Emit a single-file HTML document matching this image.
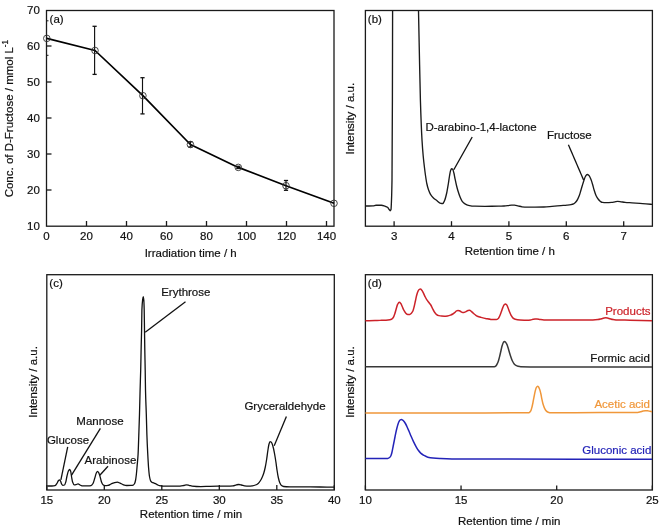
<!DOCTYPE html>
<html><head><meta charset="utf-8"><title>Figure</title>
<style>
html,body{margin:0;padding:0;background:#fff;}
body{width:669px;height:532px;overflow:hidden;}
svg{display:block;will-change:transform;}
svg text{font-family:"Liberation Sans", sans-serif;font-size:11.5px;}
</style></head>
<body>
<svg width="669" height="532" viewBox="0 0 669 532" fill="#111">
<rect width="669" height="532" fill="#fff"/>
<rect x="46.5" y="10.5" width="287.50" height="215.70" fill="none" stroke="#1a1a1a" stroke-width="1.3"/>
<rect x="365.4" y="10.5" width="287.00" height="215.70" fill="none" stroke="#1a1a1a" stroke-width="1.3"/>
<rect x="46.8" y="274.7" width="287.50" height="215.30" fill="none" stroke="#1a1a1a" stroke-width="1.3"/>
<rect x="365.4" y="274.7" width="287.00" height="215.30" fill="none" stroke="#1a1a1a" stroke-width="1.3"/>
<text stroke="#111" stroke-width="0.2" x="46.50" y="240" text-anchor="middle">0</text>
<line x1="86.50" y1="226" x2="86.50" y2="221" stroke="#1a1a1a" stroke-width="1.3"/>
<text stroke="#111" stroke-width="0.2" x="86.50" y="240" text-anchor="middle">20</text>
<line x1="126.50" y1="226" x2="126.50" y2="221" stroke="#1a1a1a" stroke-width="1.3"/>
<text stroke="#111" stroke-width="0.2" x="126.50" y="240" text-anchor="middle">40</text>
<line x1="166.50" y1="226" x2="166.50" y2="221" stroke="#1a1a1a" stroke-width="1.3"/>
<text stroke="#111" stroke-width="0.2" x="166.50" y="240" text-anchor="middle">60</text>
<line x1="206.50" y1="226" x2="206.50" y2="221" stroke="#1a1a1a" stroke-width="1.3"/>
<text stroke="#111" stroke-width="0.2" x="206.50" y="240" text-anchor="middle">80</text>
<line x1="246.50" y1="226" x2="246.50" y2="221" stroke="#1a1a1a" stroke-width="1.3"/>
<text stroke="#111" stroke-width="0.2" x="246.50" y="240" text-anchor="middle">100</text>
<line x1="286.50" y1="226" x2="286.50" y2="221" stroke="#1a1a1a" stroke-width="1.3"/>
<text stroke="#111" stroke-width="0.2" x="286.50" y="240" text-anchor="middle">120</text>
<line x1="326.50" y1="226" x2="326.50" y2="221" stroke="#1a1a1a" stroke-width="1.3"/>
<text stroke="#111" stroke-width="0.2" x="326.50" y="240" text-anchor="middle">140</text>
<text stroke="#111" stroke-width="0.2" x="39.8" y="230.00" text-anchor="end">10</text>
<line x1="46.5" y1="190.00" x2="51.5" y2="190.00" stroke="#1a1a1a" stroke-width="1.3"/>
<text stroke="#111" stroke-width="0.2" x="39.8" y="194.00" text-anchor="end">20</text>
<line x1="46.5" y1="154.00" x2="51.5" y2="154.00" stroke="#1a1a1a" stroke-width="1.3"/>
<text stroke="#111" stroke-width="0.2" x="39.8" y="158.00" text-anchor="end">30</text>
<line x1="46.5" y1="118.00" x2="51.5" y2="118.00" stroke="#1a1a1a" stroke-width="1.3"/>
<text stroke="#111" stroke-width="0.2" x="39.8" y="122.00" text-anchor="end">40</text>
<line x1="46.5" y1="82.00" x2="51.5" y2="82.00" stroke="#1a1a1a" stroke-width="1.3"/>
<text stroke="#111" stroke-width="0.2" x="39.8" y="86.00" text-anchor="end">50</text>
<line x1="46.5" y1="46.00" x2="51.5" y2="46.00" stroke="#1a1a1a" stroke-width="1.3"/>
<text stroke="#111" stroke-width="0.2" x="39.8" y="50.00" text-anchor="end">60</text>
<text stroke="#111" stroke-width="0.2" x="39.8" y="14.00" text-anchor="end">70</text>
<line x1="46.5" y1="20.8" x2="48.5" y2="20.8" stroke="#1a1a1a" stroke-width="1"/>
<line x1="46.5" y1="55.3" x2="48.5" y2="55.3" stroke="#1a1a1a" stroke-width="1"/>
<polyline points="46.8,38.4 95,50.5 142.9,95.7 190.4,144.5 238.3,167.4 286,185.7 334,203.3" fill="none" stroke="#000" stroke-width="1.7" stroke-linejoin="round"/>
<line x1="94.6" y1="26.3" x2="94.6" y2="74.4" stroke="#111" stroke-width="1.15"/>
<line x1="92.5" y1="26.3" x2="96.69999999999999" y2="26.3" stroke="#111" stroke-width="1.3"/>
<line x1="92.5" y1="74.4" x2="96.69999999999999" y2="74.4" stroke="#111" stroke-width="1.3"/>
<line x1="142.5" y1="77.7" x2="142.5" y2="113.9" stroke="#111" stroke-width="1.15"/>
<line x1="140.4" y1="77.7" x2="144.6" y2="77.7" stroke="#111" stroke-width="1.3"/>
<line x1="140.4" y1="113.9" x2="144.6" y2="113.9" stroke="#111" stroke-width="1.3"/>
<line x1="190.4" y1="141.8" x2="190.4" y2="147" stroke="#111" stroke-width="1.15"/>
<line x1="188.3" y1="141.8" x2="192.5" y2="141.8" stroke="#111" stroke-width="1.3"/>
<line x1="188.3" y1="147" x2="192.5" y2="147" stroke="#111" stroke-width="1.3"/>
<line x1="286" y1="180.5" x2="286" y2="190.3" stroke="#111" stroke-width="1.15"/>
<line x1="283.9" y1="180.5" x2="288.1" y2="180.5" stroke="#111" stroke-width="1.3"/>
<line x1="283.9" y1="190.3" x2="288.1" y2="190.3" stroke="#111" stroke-width="1.3"/>
<line x1="238.3" y1="166.3" x2="238.3" y2="168.5" stroke="#111" stroke-width="1.15"/>
<line x1="236.20000000000002" y1="166.3" x2="240.4" y2="166.3" stroke="#111" stroke-width="1.3"/>
<line x1="236.20000000000002" y1="168.5" x2="240.4" y2="168.5" stroke="#111" stroke-width="1.3"/>
<circle cx="46.8" cy="38.4" r="3.3" fill="none" stroke="#333" stroke-width="0.9"/>
<circle cx="95" cy="50.5" r="3.3" fill="none" stroke="#333" stroke-width="0.9"/>
<circle cx="142.9" cy="95.7" r="3.3" fill="none" stroke="#333" stroke-width="0.9"/>
<circle cx="190.4" cy="144.5" r="3.3" fill="none" stroke="#333" stroke-width="0.9"/>
<circle cx="238.3" cy="167.4" r="3.3" fill="none" stroke="#333" stroke-width="0.9"/>
<circle cx="286" cy="185.7" r="3.3" fill="none" stroke="#333" stroke-width="0.9"/>
<circle cx="334" cy="203.3" r="3.3" fill="none" stroke="#333" stroke-width="0.9"/>
<text stroke="#111" stroke-width="0.2" x="49.6" y="23">(a)</text>
<text stroke="#111" stroke-width="0.2" x="190.7" y="257" text-anchor="middle">Irradiation time / h</text>
<text stroke="#111" stroke-width="0.2" transform="translate(12.7,118.6) rotate(-90)" text-anchor="middle">Conc. of D-Fructose / mmol L<tspan font-size="8.2" dy="-4.9">-1</tspan></text>
<line x1="394.10" y1="226.2" x2="394.10" y2="221.2" stroke="#1a1a1a" stroke-width="1.3"/>
<text stroke="#111" stroke-width="0.2" x="394.10" y="240" text-anchor="middle">3</text>
<line x1="451.50" y1="226.2" x2="451.50" y2="221.2" stroke="#1a1a1a" stroke-width="1.3"/>
<text stroke="#111" stroke-width="0.2" x="451.50" y="240" text-anchor="middle">4</text>
<line x1="508.90" y1="226.2" x2="508.90" y2="221.2" stroke="#1a1a1a" stroke-width="1.3"/>
<text stroke="#111" stroke-width="0.2" x="508.90" y="240" text-anchor="middle">5</text>
<line x1="566.30" y1="226.2" x2="566.30" y2="221.2" stroke="#1a1a1a" stroke-width="1.3"/>
<text stroke="#111" stroke-width="0.2" x="566.30" y="240" text-anchor="middle">6</text>
<line x1="623.70" y1="226.2" x2="623.70" y2="221.2" stroke="#1a1a1a" stroke-width="1.3"/>
<text stroke="#111" stroke-width="0.2" x="623.70" y="240" text-anchor="middle">7</text>
<text stroke="#111" stroke-width="0.2" x="367.8" y="23">(b)</text>
<text stroke="#111" stroke-width="0.2" x="509.8" y="255" text-anchor="middle">Retention time / h</text>
<text stroke="#111" stroke-width="0.2" transform="translate(353.9,118.7) rotate(-90)" text-anchor="middle">Intensity / a.u.</text>
<path d="M365.40,206.00 C366.60,206.00 367.80,206.00 369.00,206.00 C370.33,206.00 371.67,205.96 373.00,205.90 C374.00,205.85 375.00,205.20 376.00,205.20 C377.83,205.20 379.67,205.20 381.50,205.20 C382.67,205.20 383.83,205.79 385.00,206.20 C385.83,206.49 386.67,206.74 387.50,207.30 C388.07,207.68 388.63,208.72 389.20,209.50 C389.50,209.91 389.80,210.80 390.10,210.80 C390.40,210.80 390.70,210.38 391.00,209.50 C391.17,209.01 391.33,204.29 391.50,200.00 C391.67,195.71 391.83,191.39 392.00,180.00 C392.13,170.89 392.27,138.49 392.40,100.00 C392.47,80.75 392.53,40.33 392.60,10.50 M418.50,10.50 C418.77,23.67 419.03,37.35 419.30,50.00 C419.67,67.39 420.03,87.96 420.40,100.00 C420.93,117.52 421.47,130.86 422.00,140.00 C422.40,146.86 422.80,151.65 423.20,156.00 C423.60,160.35 424.00,163.65 424.40,167.00 C424.77,170.07 425.13,172.98 425.50,175.50 C425.93,178.48 426.37,181.47 426.80,183.50 C427.37,186.15 427.93,188.20 428.50,189.80 C429.17,191.68 429.83,193.21 430.50,194.30 C431.40,195.77 432.30,196.82 433.20,197.70 C434.30,198.77 435.40,199.48 436.50,200.30 C437.93,201.36 439.37,203.07 440.80,203.30 C441.47,203.41 442.13,203.50 442.80,203.50 C443.40,203.50 444.00,201.85 444.60,200.50 C445.30,198.92 446.00,196.09 446.70,193.00 C447.23,190.65 447.77,187.27 448.30,184.00 C448.70,181.55 449.10,178.28 449.50,176.00 C449.87,173.91 450.23,171.46 450.60,170.50 C450.93,169.62 451.27,168.70 451.60,168.70 C451.97,168.70 452.33,168.96 452.70,169.30 C453.10,169.67 453.50,171.46 453.90,173.00 C454.27,174.41 454.63,176.82 455.00,178.60 C455.50,181.02 456.00,183.46 456.50,185.50 C457.00,187.54 457.50,189.37 458.00,191.00 C458.67,193.17 459.33,195.20 460.00,196.80 C460.73,198.56 461.47,200.37 462.20,201.30 C463.13,202.48 464.07,203.24 465.00,203.80 C466.13,204.48 467.27,205.05 468.40,205.30 C470.60,205.79 472.80,206.16 475.00,206.20 C478.33,206.27 481.67,206.30 485.00,206.30 C489.47,206.30 493.93,206.26 498.40,206.20 C500.27,206.17 502.13,206.10 504.00,206.00 C505.33,205.93 506.67,205.76 508.00,205.60 C509.17,205.46 510.33,205.10 511.50,205.10 C512.50,205.10 513.50,205.14 514.50,205.20 C515.67,205.27 516.83,205.65 518.00,205.90 C519.33,206.18 520.67,206.67 522.00,206.80 C523.60,206.96 525.20,207.10 526.80,207.10 C529.53,207.10 532.27,207.10 535.00,207.10 C537.97,207.10 540.93,207.06 543.90,207.00 C546.60,206.95 549.30,206.62 552.00,206.40 C555.00,206.16 558.00,205.86 561.00,205.60 C563.00,205.43 565.00,205.30 567.00,205.10 C568.33,204.96 569.67,204.83 571.00,204.60 C571.87,204.45 572.73,204.26 573.60,203.90 C574.33,203.59 575.07,202.81 575.80,202.00 C576.40,201.34 577.00,200.38 577.60,199.30 C578.17,198.28 578.73,197.00 579.30,195.50 C579.77,194.26 580.23,192.55 580.70,191.00 C581.23,189.23 581.77,187.27 582.30,185.50 C582.80,183.84 583.30,182.14 583.80,180.70 C584.33,179.16 584.87,177.34 585.40,176.50 C586.00,175.56 586.60,174.50 587.20,174.50 C587.80,174.50 588.40,174.98 589.00,175.50 C589.67,176.08 590.33,177.95 591.00,179.60 C591.53,180.92 592.07,182.72 592.60,184.50 C593.10,186.17 593.60,188.37 594.10,190.00 C594.73,192.06 595.37,194.16 596.00,195.50 C596.77,197.13 597.53,198.35 598.30,199.30 C599.03,200.21 599.77,201.03 600.50,201.50 C601.13,201.90 601.77,202.33 602.40,202.40 C603.60,202.53 604.80,202.60 606.00,202.60 C607.90,202.60 609.80,202.52 611.70,202.40 C612.80,202.33 613.90,201.98 615.00,201.80 C615.90,201.65 616.80,201.40 617.70,201.40 C618.80,201.40 619.90,201.66 621.00,201.80 C622.33,201.96 623.67,202.18 625.00,202.30 C627.33,202.52 629.67,202.63 632.00,202.80 C634.67,203.00 637.33,203.19 640.00,203.40 C642.00,203.56 644.00,203.75 646.00,203.90 C648.00,204.05 650.00,204.17 652.00,204.30" fill="none" stroke="#1a1a1a" stroke-width="1.35" stroke-linejoin="round"/>
<line x1="453.8" y1="169.8" x2="472.2" y2="137" stroke="#111" stroke-width="1.3"/>
<line x1="568.4" y1="144.7" x2="583.6" y2="180" stroke="#111" stroke-width="1.3"/>
<text stroke="#111" stroke-width="0.2" x="425.4" y="131.1">D-arabino-1,4-lactone</text>
<text stroke="#111" stroke-width="0.2" x="547" y="139">Fructose</text>
<line x1="46.80" y1="490" x2="46.80" y2="485" stroke="#1a1a1a" stroke-width="1.3"/>
<text stroke="#111" stroke-width="0.2" x="46.80" y="504" text-anchor="middle">15</text>
<line x1="104.30" y1="490" x2="104.30" y2="485" stroke="#1a1a1a" stroke-width="1.3"/>
<text stroke="#111" stroke-width="0.2" x="104.30" y="504" text-anchor="middle">20</text>
<line x1="161.80" y1="490" x2="161.80" y2="485" stroke="#1a1a1a" stroke-width="1.3"/>
<text stroke="#111" stroke-width="0.2" x="161.80" y="504" text-anchor="middle">25</text>
<line x1="219.30" y1="490" x2="219.30" y2="485" stroke="#1a1a1a" stroke-width="1.3"/>
<text stroke="#111" stroke-width="0.2" x="219.30" y="504" text-anchor="middle">30</text>
<line x1="276.80" y1="490" x2="276.80" y2="485" stroke="#1a1a1a" stroke-width="1.3"/>
<text stroke="#111" stroke-width="0.2" x="276.80" y="504" text-anchor="middle">35</text>
<line x1="334.30" y1="490" x2="334.30" y2="485" stroke="#1a1a1a" stroke-width="1.3"/>
<text stroke="#111" stroke-width="0.2" x="334.30" y="504" text-anchor="middle">40</text>
<text stroke="#111" stroke-width="0.2" x="49.3" y="287.3">(c)</text>
<text stroke="#111" stroke-width="0.2" x="191" y="517.8" text-anchor="middle">Retention time / min</text>
<text stroke="#111" stroke-width="0.2" transform="translate(37.3,381.9) rotate(-90)" text-anchor="middle">Intensity / a.u.</text>
<path d="M47.40,486.00 C48.93,486.00 50.47,486.00 52.00,486.00 C53.00,486.00 54.00,485.89 55.00,485.70 C55.73,485.56 56.47,484.12 57.20,483.00 C57.63,482.34 58.07,480.97 58.50,480.50 C58.80,480.18 59.10,479.80 59.40,479.80 C59.77,479.80 60.13,480.43 60.50,481.00 C60.87,481.57 61.23,483.43 61.60,484.00 C62.00,484.62 62.40,485.30 62.80,485.30 C63.37,485.30 63.93,485.19 64.50,485.00 C64.93,484.85 65.37,483.38 65.80,482.00 C66.20,480.73 66.60,477.67 67.00,476.00 C67.47,474.05 67.93,471.90 68.40,471.00 C68.80,470.23 69.20,469.40 69.60,469.40 C69.93,469.40 70.27,470.16 70.60,471.00 C70.93,471.84 71.27,475.18 71.60,477.00 C71.93,478.82 72.27,481.10 72.60,482.00 C73.13,483.44 73.67,484.80 74.20,484.80 C74.80,484.80 75.40,484.70 76.00,484.60 C76.70,484.48 77.40,483.90 78.10,483.90 C78.73,483.90 79.37,484.70 80.00,485.00 C80.67,485.32 81.33,485.77 82.00,485.80 C84.00,485.88 86.00,485.90 88.00,485.90 C89.00,485.90 90.00,485.79 91.00,485.60 C91.67,485.47 92.33,484.55 93.00,483.50 C93.60,482.55 94.20,479.92 94.80,478.00 C95.30,476.40 95.80,473.94 96.30,473.00 C96.70,472.25 97.10,471.40 97.50,471.40 C97.93,471.40 98.37,472.11 98.80,472.80 C99.30,473.59 99.80,475.79 100.30,477.50 C100.70,478.87 101.10,480.99 101.50,482.00 C102.00,483.26 102.50,484.46 103.00,484.80 C103.67,485.25 104.33,485.60 105.00,485.60 C106.00,485.60 107.00,485.52 108.00,485.40 C109.00,485.28 110.00,484.43 111.00,484.00 C112.00,483.57 113.00,483.08 114.00,482.80 C115.10,482.49 116.20,482.10 117.30,482.10 C118.20,482.10 119.10,482.72 120.00,483.10 C121.00,483.52 122.00,484.27 123.00,484.60 C124.23,485.01 125.47,485.50 126.70,485.50 C128.13,485.50 129.57,485.46 131.00,485.40 C131.73,485.37 132.47,485.29 133.20,485.10 C133.67,484.98 134.13,484.33 134.60,483.50 C134.93,482.91 135.27,481.61 135.60,480.00 C135.87,478.71 136.13,476.40 136.40,474.00 C136.67,471.60 136.93,468.12 137.20,465.00 C137.50,461.49 137.80,459.14 138.10,454.00 C138.33,450.00 138.57,441.65 138.80,435.00 C139.03,428.35 139.27,422.03 139.50,414.00 C139.70,407.12 139.90,397.27 140.10,390.00 C140.30,382.73 140.50,377.91 140.70,370.00 C140.87,363.41 141.03,353.25 141.20,346.00 C141.33,340.20 141.47,336.75 141.60,330.00 C141.70,324.94 141.80,312.58 141.90,310.00 C142.13,303.99 142.37,301.87 142.60,300.00 C142.80,298.39 143.00,296.60 143.20,296.60 C143.40,296.60 143.60,298.07 143.80,300.00 C143.93,301.29 144.07,305.04 144.20,310.00 C144.30,313.72 144.40,323.33 144.50,330.00 C144.60,336.67 144.70,344.25 144.80,350.00 C144.93,357.67 145.07,362.33 145.20,370.00 C145.30,375.75 145.40,385.61 145.50,390.00 C145.77,401.71 146.03,405.35 146.30,414.00 C146.50,420.49 146.70,429.46 146.90,435.00 C147.17,442.38 147.43,447.88 147.70,453.00 C148.00,458.76 148.30,464.38 148.60,468.00 C148.90,471.62 149.20,474.82 149.50,476.50 C149.87,478.56 150.23,480.17 150.60,480.80 C151.07,481.60 151.53,482.07 152.00,482.30 C152.53,482.56 153.07,482.61 153.60,482.80 C154.23,483.03 154.87,483.29 155.50,483.60 C156.17,483.93 156.83,484.46 157.50,484.80 C158.17,485.14 158.83,485.54 159.50,485.70 C160.33,485.90 161.17,486.10 162.00,486.10 C164.67,486.10 167.33,486.10 170.00,486.10 C173.33,486.10 176.67,486.10 180.00,486.10 C181.33,486.10 182.67,485.75 184.00,485.50 C184.87,485.34 185.73,484.90 186.60,484.90 C187.40,484.90 188.20,485.14 189.00,485.30 C190.00,485.50 191.00,486.00 192.00,486.10 C194.93,486.41 197.87,486.60 200.80,486.60 C203.87,486.60 206.93,486.36 210.00,486.30 C215.00,486.20 220.00,486.20 225.00,486.10 C227.67,486.04 230.33,486.00 233.00,485.80 C234.17,485.71 235.33,485.00 236.50,484.80 C237.30,484.66 238.10,484.50 238.90,484.50 C239.77,484.50 240.63,484.80 241.50,485.00 C242.50,485.23 243.50,485.78 244.50,485.90 C245.93,486.07 247.37,486.20 248.80,486.20 C250.03,486.20 251.27,485.99 252.50,485.80 C253.50,485.64 254.50,485.37 255.50,485.00 C256.40,484.67 257.30,484.13 258.20,483.40 C258.97,482.78 259.73,481.68 260.50,480.50 C261.10,479.57 261.70,478.36 262.30,477.00 C262.80,475.87 263.30,474.60 263.80,473.00 C264.30,471.40 264.80,469.36 265.30,467.00 C265.77,464.80 266.23,462.00 266.70,459.00 C267.07,456.64 267.43,453.39 267.80,451.00 C268.17,448.61 268.53,445.80 268.90,444.50 C269.27,443.20 269.63,441.70 270.00,441.70 C270.40,441.70 270.80,441.82 271.20,442.00 C271.60,442.18 272.00,443.44 272.40,444.50 C272.77,445.48 273.13,446.96 273.50,448.50 C273.87,450.04 274.23,451.98 274.60,454.00 C275.03,456.38 275.47,459.10 275.90,462.00 C276.27,464.45 276.63,467.63 277.00,470.00 C277.43,472.80 277.87,475.59 278.30,477.50 C278.80,479.70 279.30,481.70 279.80,482.80 C280.37,484.05 280.93,485.08 281.50,485.50 C282.20,486.02 282.90,486.43 283.60,486.50 C285.73,486.71 287.87,486.76 290.00,486.80 C293.33,486.86 296.67,486.88 300.00,486.90 C306.67,486.95 313.33,486.96 320.00,487.00 C324.67,487.03 329.33,487.07 334.00,487.10" fill="none" stroke="#111" stroke-width="1.3" stroke-linejoin="round"/>
<line x1="60.9" y1="479.8" x2="67.7" y2="446.9" stroke="#111" stroke-width="1.3"/>
<line x1="71.4" y1="475.3" x2="100.4" y2="428.3" stroke="#111" stroke-width="1.3"/>
<line x1="99.8" y1="475.3" x2="108" y2="466.3" stroke="#111" stroke-width="1.3"/>
<line x1="145.2" y1="332.3" x2="185.5" y2="301.7" stroke="#111" stroke-width="1.3"/>
<line x1="274.2" y1="445.8" x2="286.4" y2="416.6" stroke="#111" stroke-width="1.3"/>
<text stroke="#111" stroke-width="0.2" x="46.9" y="444.2">Glucose</text>
<text stroke="#111" stroke-width="0.2" x="76.3" y="424.9">Mannose</text>
<text stroke="#111" stroke-width="0.2" x="84.5" y="464.1">Arabinose</text>
<text stroke="#111" stroke-width="0.2" x="161.2" y="296">Erythrose</text>
<text stroke="#111" stroke-width="0.2" x="244.4" y="409.7">Gryceraldehyde</text>
<line x1="365.40" y1="490" x2="365.40" y2="485.4" stroke="#1a1a1a" stroke-width="1.3"/>
<text stroke="#111" stroke-width="0.2" x="365.40" y="503.6" text-anchor="middle">10</text>
<line x1="461.05" y1="490" x2="461.05" y2="485.4" stroke="#1a1a1a" stroke-width="1.3"/>
<text stroke="#111" stroke-width="0.2" x="461.05" y="503.6" text-anchor="middle">15</text>
<line x1="556.70" y1="490" x2="556.70" y2="485.4" stroke="#1a1a1a" stroke-width="1.3"/>
<text stroke="#111" stroke-width="0.2" x="556.70" y="503.6" text-anchor="middle">20</text>
<line x1="652.35" y1="490" x2="652.35" y2="485.4" stroke="#1a1a1a" stroke-width="1.3"/>
<text stroke="#111" stroke-width="0.2" x="652.35" y="503.6" text-anchor="middle">25</text>
<text stroke="#111" stroke-width="0.2" x="367.8" y="287.4">(d)</text>
<text stroke="#111" stroke-width="0.2" x="509.2" y="525" text-anchor="middle">Retention time / min</text>
<text stroke="#111" stroke-width="0.2" transform="translate(353.9,382) rotate(-90)" text-anchor="middle">Intensity / a.u.</text>
<path d="M365.40,320.80 C368.60,320.73 371.80,320.69 375.00,320.60 C377.13,320.54 379.27,320.41 381.40,320.30 C383.60,320.18 385.80,320.12 388.00,319.90 C389.17,319.79 390.33,319.61 391.50,319.20 C392.10,318.99 392.70,318.33 393.30,317.50 C393.80,316.81 394.30,315.25 394.80,313.80 C395.30,312.35 395.80,310.16 396.30,308.50 C396.73,307.06 397.17,305.18 397.60,304.40 C398.17,303.37 398.73,302.30 399.30,302.30 C399.80,302.30 400.30,302.91 400.80,303.50 C401.30,304.09 401.80,305.71 402.30,306.80 C402.87,308.04 403.43,309.49 404.00,310.50 C404.60,311.57 405.20,312.68 405.80,313.20 C406.47,313.78 407.13,314.40 407.80,314.40 C408.47,314.40 409.13,314.40 409.80,314.40 C410.33,314.40 410.87,313.73 411.40,313.20 C411.90,312.70 412.40,312.04 412.90,311.00 C413.33,310.10 413.77,308.21 414.20,306.50 C414.60,304.92 415.00,302.83 415.40,301.00 C415.80,299.17 416.20,296.98 416.60,295.50 C417.03,293.90 417.47,292.38 417.90,291.50 C418.37,290.55 418.83,289.60 419.30,289.40 C419.70,289.23 420.10,289.10 420.50,289.10 C420.93,289.10 421.37,289.71 421.80,290.20 C422.27,290.73 422.73,291.71 423.20,292.60 C423.77,293.68 424.33,295.15 424.90,296.30 C425.50,297.51 426.10,298.77 426.70,299.70 C427.37,300.73 428.03,301.44 428.70,302.30 C429.40,303.21 430.10,303.88 430.80,305.00 C431.37,305.90 431.93,307.40 432.50,308.50 C433.10,309.66 433.70,310.91 434.30,311.80 C434.97,312.79 435.63,313.80 436.30,314.30 C437.13,314.92 437.97,315.37 438.80,315.60 C439.70,315.85 440.60,316.05 441.50,316.10 C442.50,316.16 443.50,316.20 444.50,316.20 C445.50,316.20 446.50,316.05 447.50,315.90 C448.50,315.75 449.50,315.45 450.50,315.10 C451.27,314.83 452.03,314.46 452.80,314.00 C453.40,313.64 454.00,313.10 454.60,312.60 C455.23,312.07 455.87,311.22 456.50,310.90 C456.97,310.67 457.43,310.40 457.90,310.40 C458.43,310.40 458.97,310.61 459.50,310.80 C460.17,311.04 460.83,311.87 461.50,312.10 C462.23,312.35 462.97,312.60 463.70,312.60 C464.47,312.60 465.23,311.97 466.00,311.60 C466.67,311.28 467.33,310.63 468.00,310.50 C468.53,310.39 469.07,310.30 469.60,310.30 C470.17,310.30 470.73,310.89 471.30,311.30 C471.97,311.78 472.63,312.61 473.30,313.20 C474.03,313.85 474.77,314.48 475.50,315.00 C476.13,315.45 476.77,315.91 477.40,316.20 C478.60,316.74 479.80,317.06 481.00,317.40 C482.80,317.91 484.60,318.37 486.40,318.70 C487.93,318.98 489.47,319.31 491.00,319.40 C492.77,319.51 494.53,319.60 496.30,319.60 C496.97,319.60 497.63,319.08 498.30,318.50 C498.80,318.07 499.30,316.87 499.80,315.80 C500.30,314.73 500.80,313.17 501.30,311.80 C501.80,310.43 502.30,308.76 502.80,307.60 C503.27,306.51 503.73,305.26 504.20,304.80 C504.60,304.41 505.00,304.00 505.40,304.00 C505.80,304.00 506.20,304.40 506.60,304.80 C507.03,305.23 507.47,306.49 507.90,307.50 C508.43,308.74 508.97,310.51 509.50,311.80 C510.03,313.09 510.57,314.34 511.10,315.30 C511.67,316.32 512.23,317.41 512.80,317.90 C513.60,318.59 514.40,319.10 515.20,319.30 C516.80,319.70 518.40,319.90 520.00,320.00 C522.53,320.16 525.07,320.30 527.60,320.30 C528.57,320.30 529.53,320.15 530.50,320.00 C531.33,319.87 532.17,319.49 533.00,319.30 C533.67,319.15 534.33,318.90 535.00,318.90 C535.67,318.90 536.33,318.90 537.00,318.90 C538.00,318.90 539.00,319.36 540.00,319.50 C541.33,319.68 542.67,319.90 544.00,319.90 C549.33,319.90 554.67,319.90 560.00,319.90 C566.67,319.90 573.33,319.90 580.00,319.90 C584.30,319.90 588.60,319.90 592.90,319.90 C594.60,319.90 596.30,319.77 598.00,319.60 C599.17,319.48 600.33,319.01 601.50,318.70 C602.33,318.48 603.17,318.13 604.00,318.00 C604.57,317.91 605.13,317.80 605.70,317.80 C606.30,317.80 606.90,317.90 607.50,318.00 C608.33,318.13 609.17,318.56 610.00,318.80 C611.00,319.09 612.00,319.45 613.00,319.60 C614.00,319.75 615.00,319.86 616.00,319.90 C620.67,320.09 625.33,320.09 630.00,320.20 C637.33,320.37 644.67,320.60 652.00,320.80" fill="none" stroke="#cc2229" stroke-width="1.5" stroke-linejoin="round"/>
<path d="M365.40,366.70 C393.60,366.73 421.80,366.80 450.00,366.80 C464.80,366.80 479.60,366.80 494.40,366.80 C494.93,366.80 495.47,366.36 496.00,365.90 C496.50,365.47 497.00,364.37 497.50,363.30 C497.90,362.44 498.30,361.28 498.70,360.00 C499.07,358.82 499.43,357.30 499.80,355.80 C500.20,354.16 500.60,352.22 501.00,350.50 C501.40,348.78 501.80,346.78 502.20,345.50 C502.60,344.22 503.00,342.93 503.40,342.40 C503.77,341.91 504.13,341.40 504.50,341.40 C504.87,341.40 505.23,341.83 505.60,342.20 C506.03,342.64 506.47,343.48 506.90,344.40 C507.30,345.25 507.70,346.55 508.10,347.80 C508.50,349.05 508.90,350.66 509.30,352.00 C509.80,353.67 510.30,355.35 510.80,356.80 C511.30,358.25 511.80,359.75 512.30,360.80 C512.87,361.98 513.43,363.03 514.00,363.70 C514.63,364.45 515.27,365.03 515.90,365.40 C516.60,365.81 517.30,366.12 518.00,366.30 C518.90,366.54 519.80,366.79 520.70,366.80 C527.13,366.89 533.57,366.90 540.00,366.90 C577.33,366.90 614.67,366.90 652.00,366.90" fill="none" stroke="#383838" stroke-width="1.5" stroke-linejoin="round"/>
<path d="M365.40,413.00 C393.60,412.97 421.80,412.93 450.00,412.90 C476.10,412.87 502.20,412.90 528.30,412.80 C528.80,412.80 529.30,412.46 529.80,412.10 C530.17,411.84 530.53,411.31 530.90,410.60 C531.27,409.89 531.63,408.42 532.00,407.00 C532.33,405.71 532.67,403.96 533.00,402.30 C533.37,400.48 533.73,398.36 534.10,396.50 C534.47,394.64 534.83,392.49 535.20,391.10 C535.60,389.58 536.00,388.00 536.40,387.40 C536.80,386.80 537.20,386.20 537.60,386.20 C537.97,386.20 538.33,386.72 538.70,387.20 C539.07,387.68 539.43,388.73 539.80,389.80 C540.17,390.87 540.53,392.38 540.90,394.00 C541.23,395.47 541.57,397.64 541.90,399.20 C542.30,401.08 542.70,402.98 543.10,404.30 C543.60,405.95 544.10,407.29 544.60,408.30 C545.13,409.38 545.67,410.40 546.20,410.90 C546.87,411.53 547.53,411.97 548.20,412.20 C549.10,412.51 550.00,412.80 550.90,412.80 C567.27,412.80 583.63,412.68 600.00,412.60 C612.57,412.54 625.13,412.58 637.70,412.40 C638.63,412.39 639.57,412.04 640.50,411.80 C641.33,411.59 642.17,411.16 643.00,411.00 C643.73,410.86 644.47,410.70 645.20,410.70 C645.97,410.70 646.73,410.75 647.50,410.80 C648.33,410.86 649.17,411.13 650.00,411.30 C650.67,411.43 651.33,411.57 652.00,411.70" fill="none" stroke="#f0973a" stroke-width="1.5" stroke-linejoin="round"/>
<path d="M365.40,458.60 C370.27,458.57 375.13,458.54 380.00,458.50 C382.60,458.48 385.20,458.48 387.80,458.40 C388.40,458.38 389.00,457.94 389.60,457.50 C390.00,457.21 390.40,456.72 390.80,456.00 C391.17,455.34 391.53,453.92 391.90,452.50 C392.33,450.83 392.77,448.17 393.20,446.00 C393.60,444.00 394.00,442.02 394.40,440.00 C394.80,437.98 395.20,435.81 395.60,433.90 C396.00,431.99 396.40,430.13 396.80,428.50 C397.17,427.01 397.53,425.50 397.90,424.40 C398.30,423.20 398.70,422.07 399.10,421.40 C399.50,420.73 399.90,420.07 400.30,419.90 C400.70,419.73 401.10,419.60 401.50,419.60 C401.90,419.60 402.30,419.86 402.70,420.10 C403.10,420.34 403.50,420.83 403.90,421.30 C404.40,421.89 404.90,422.65 405.40,423.50 C405.90,424.35 406.40,425.44 406.90,426.50 C407.57,427.91 408.23,429.45 408.90,431.00 C409.63,432.71 410.37,434.61 411.10,436.30 C411.90,438.14 412.70,439.94 413.50,441.60 C414.30,443.26 415.10,444.86 415.90,446.30 C416.70,447.74 417.50,449.20 418.30,450.30 C419.10,451.40 419.90,452.39 420.70,453.10 C421.73,454.02 422.77,454.71 423.80,455.30 C425.13,456.07 426.47,456.88 427.80,457.20 C429.53,457.61 431.27,457.85 433.00,458.00 C435.27,458.20 437.53,458.31 439.80,458.40 C446.53,458.68 453.27,458.97 460.00,459.00 C473.33,459.07 486.67,459.08 500.00,459.10 C550.67,459.16 601.33,459.17 652.00,459.20" fill="none" stroke="#2323b8" stroke-width="1.5" stroke-linejoin="round"/>
<text stroke="#cc2229" stroke-width="0.2" x="650.6" y="314.9" text-anchor="end" fill="#cc2229">Products</text>
<text stroke="#111" stroke-width="0.2" x="649.8" y="361.5" text-anchor="end" fill="#111">Formic acid</text>
<text stroke="#f0973a" stroke-width="0.2" x="650.0" y="408.2" text-anchor="end" fill="#f0973a">Acetic acid</text>
<text stroke="#2323b8" stroke-width="0.2" x="651.3" y="453.8" text-anchor="end" fill="#2323b8">Gluconic acid</text>
</svg>
</body></html>
